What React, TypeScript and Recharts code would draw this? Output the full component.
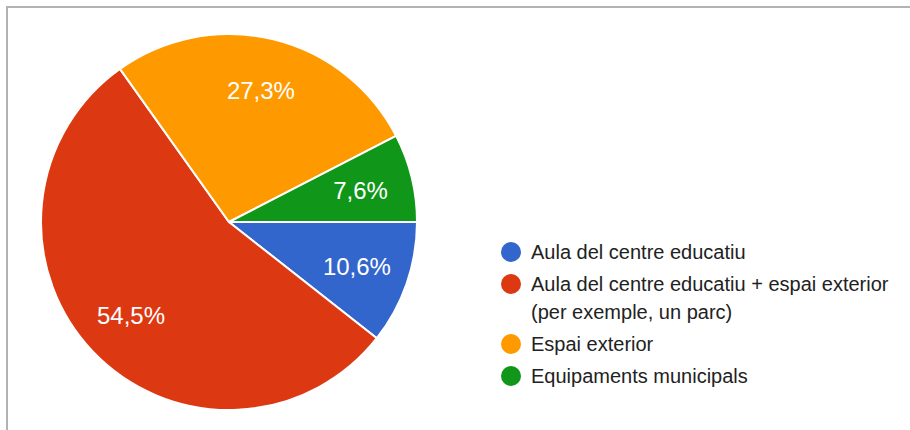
import { PieChart, Pie, Cell, Legend } from 'recharts';

const categories = [
    'Aula del centre educatiu',
    'Aula del centre educatiu + espai exterior (per exemple, un parc)',
    'Espai exterior',
    'Equipaments municipals',
];
const responses = [7, 36, 18, 5];

const COLORS = ['#3366cc', '#dc3912', '#ff9900', '#109618'];

const data = categories.map((name, i) => ({ name, value: responses[i] }));

const RADIAN = Math.PI / 180;

const renderLabel = (props: any) => {
    const { cx, cy, midAngle, outerRadius, percent } = props;
    const r = outerRadius * 0.72;
    const x = cx + r * Math.cos(-midAngle * RADIAN);
    const y = cy + r * Math.sin(-midAngle * RADIAN);
    return (
        <text x={x} y={y} fill="#fff" textAnchor="middle" dominantBaseline="central"
            fontSize={24} fontFamily="'Liberation Sans', Arial, sans-serif">
            {(percent * 100).toFixed(1).replace('.', ',')}%
        </text>
    );
};

const renderLegend = () => (
    <div style={{ fontFamily: "'Liberation Sans', Arial, sans-serif", fontSize: 20, color: '#222' }}>
        {data.map((d, i) => (
            <div key={d.name} style={{ display: 'flex', alignItems: 'flex-start', marginBottom: 4 }}>
                <div style={{
                    width: 20, height: 20, borderRadius: 10, background: COLORS[i],
                    marginTop: 4, marginRight: 10, flexShrink: 0,
                }} />
                <div style={{ width: 372, lineHeight: '28px' }}>{d.name}</div>
            </div>
        ))}
    </div>
);

const App = () => (
    <div style={{ position: 'absolute', left: 0, top: 0, width: 910, height: 430, background: '#fff', overflow: 'hidden' }}>
        <div style={{
            position: 'absolute', left: 6, top: 6, width: 920, height: 440,
            borderTop: '2px solid #b2b2b2', borderLeft: '2px solid #b2b2b2',
        }} />
        <div style={{ position: 'absolute', left: 0, top: 0 }}>
            <PieChart width={910} height={430} margin={{ top: 0, right: 0, bottom: 0, left: 0 }}>
                <Pie
                    data={data}
                    dataKey="value"
                    nameKey="name"
                    cx={229}
                    cy={222}
                    outerRadius={188}
                    startAngle={0}
                    endAngle={-360}
                    stroke="#fff"
                    strokeWidth={2}
                    label={renderLabel}
                    labelLine={false}
                    isAnimationActive={false}
                >
                    {data.map((d, i) => (
                        <Cell key={d.name} fill={COLORS[i]} />
                    ))}
                </Pie>
                <Legend
                    content={renderLegend}
                    layout="vertical"
                    wrapperStyle={{ position: 'absolute', left: 501, top: 238, width: 405 }}
                />
            </PieChart>
        </div>
    </div>
);

export default App;
